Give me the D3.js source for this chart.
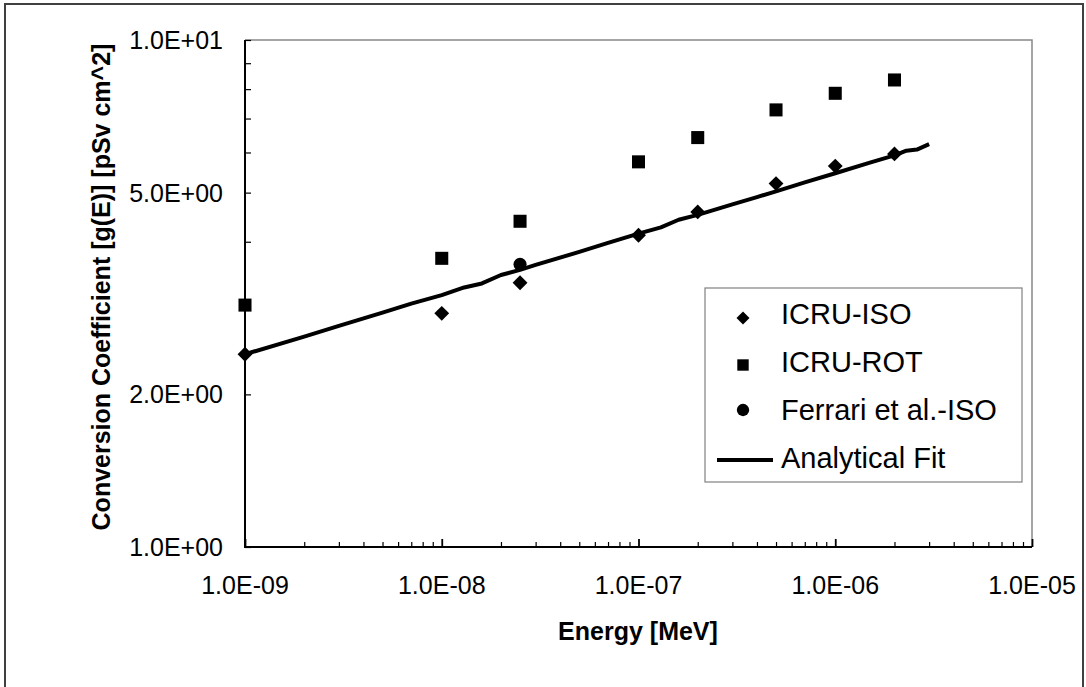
<!DOCTYPE html>
<html><head><meta charset="utf-8">
<script src="https://cdn.jsdelivr.net/npm/d3@7"></script>
<style>
html,body{margin:0;padding:0;background:#fff;}
text{font-family:"Liberation Sans",Arial,sans-serif;}
</style></head>
<body><svg id="c" width="1086" height="687"></svg>
<script>
// ---- data ----
const isoE   = [1e-9, 1e-8, 2.5e-8, 1e-7, 2e-7, 5e-7, 1e-6, 2e-6];
const isoV   = [2.40, 2.89, 3.32, 4.12, 4.58, 5.21, 5.64, 5.96];
const rotE   = [1e-9, 1e-8, 2.5e-8, 1e-7, 2e-7, 5e-7, 1e-6, 2e-6];
const rotV   = [3.00, 3.71, 4.39, 5.75, 6.42, 7.28, 7.85, 8.34];
const ferE   = [2.5e-8];
const ferV   = [3.61];
const fitE   = [1e-9, 2e-9, 3e-9, 5e-9, 7e-9, 1e-8, 1.3e-8, 1.6e-8, 2e-8, 2.5e-8, 3e-8, 5e-8, 7e-8, 1e-7, 1.3e-7, 1.6e-7, 2e-7, 3e-7, 4e-7, 5e-7, 7e-7, 1e-6, 1.5e-6, 2e-6, 2.3e-6, 2.6e-6, 3e-6];
const fitV   = [2.40, 2.60, 2.73, 2.90, 3.02, 3.14, 3.25, 3.31, 3.44, 3.52, 3.60, 3.82, 3.98, 4.15, 4.27, 4.42, 4.52, 4.74, 4.90, 5.03, 5.24, 5.46, 5.73, 5.92, 6.05, 6.08, 6.23];
const xMajor = [1e-9, 1e-8, 1e-7, 1e-6, 1e-5];
const yMajor = [1, 2, 5, 10];
const xLabels = ["1.0E-09","1.0E-08","1.0E-07","1.0E-06","1.0E-05"];
const yLabels = ["1.0E+00","2.0E+00","5.0E+00","1.0E+01"];
const legendLabels = ["ICRU-ISO","ICRU-ROT","Ferrari et al.-ISO","Analytical Fit"];
const xTitle = "Energy [MeV]";
const yTitle = "Conversion Coefficient [g(E)] [pSv cm^2]";

const svg = d3.select("#c");
const L = 245, R = 1032, T = 40, B = 547;
const x = d3.scaleLog().domain([1e-9, 1e-5]).range([L, R]);
const y = d3.scaleLog().domain([1, 10]).range([B, T]);

// outer frame
svg.append("rect").attr("x",5).attr("y",4).attr("width",1078).attr("height",700)
  .attr("fill","none").attr("stroke","#404040").attr("stroke-width",2);

// plot border top/right
svg.append("path").attr("d",`M${L},${T}H${R}V${B}`).attr("fill","none").attr("stroke","#888").attr("stroke-width",1.5);

// minor tick values
const xMinor = [];
for (let d=-9; d<-5; d++) for (let k=2;k<=9;k++) xMinor.push(k*Math.pow(10,d));
const yMinor = [3,4,6,7,8,9];

// X axis
const gx = svg.append("g").attr("transform",`translate(0,${B})`);
gx.call(d3.axisTop(x).tickValues(xMinor).tickSize(5).tickFormat(""))
  .call(g=>g.select(".domain").remove());
gx.selectAll("line").attr("stroke","#000").attr("stroke-width",1.2);
const gx2 = svg.append("g").attr("transform",`translate(0,${B})`);
gx2.call(d3.axisTop(x).tickValues(xMajor).tickSize(8).tickFormat(""))
  .call(g=>g.select(".domain").remove());
gx2.selectAll("line").attr("stroke","#000").attr("stroke-width",1.8);
svg.append("g").selectAll("text").data(xMajor).join("text")
  .attr("x",d=>x(d)).attr("y",594).attr("text-anchor","middle")
  .attr("font-size",25).text((d,i)=>xLabels[i]);

// Y axis
const gy = svg.append("g").attr("transform",`translate(${L},0)`);
gy.call(d3.axisRight(y).tickValues(yMinor.concat(yMajor)).tickSize(6).tickFormat(""))
  .call(g=>g.select(".domain").remove());
gy.selectAll("line").attr("stroke","#000").attr("stroke-width",1.2);
svg.append("g").selectAll("text").data(yMajor).join("text")
  .attr("x",223).attr("y",d=>y(d)+9).attr("text-anchor","end")
  .attr("font-size",25).text((d,i)=>yLabels[i]);

// axis lines
svg.append("path").attr("d",`M${L},${T}V${B}H${R}`).attr("fill","none").attr("stroke","#000").attr("stroke-width",2);

// titles
svg.append("text").attr("x",638).attr("y",640).attr("text-anchor","middle")
  .attr("font-size",25).attr("font-weight","bold").text(xTitle);
svg.append("text").attr("transform","translate(110,287) rotate(-90)").attr("text-anchor","middle")
  .attr("font-size",25).attr("font-weight","bold").text(yTitle);

// fit line
const line = d3.line().x(d=>x(d[0])).y(d=>y(d[1])).curve(d3.curveLinear);
svg.append("path").datum(fitE.map((e,i)=>[e,fitV[i]])).attr("d",line)
  .attr("fill","none").attr("stroke","#000").attr("stroke-width",4).attr("stroke-linejoin","round");

const diamond = d3.symbol().type(d3.symbolSquare).size(110)();
const square = d3.symbol().type(d3.symbolSquare).size(170)();
const circle = d3.symbol().type(d3.symbolCircle).size(135)();

svg.append("g").selectAll("path").data(rotE).join("path")
  .attr("d",square).attr("transform",(d,i)=>`translate(${x(d)},${y(rotV[i])})`).attr("fill","#000");
svg.append("g").selectAll("path").data(isoE).join("path")
  .attr("d",diamond).attr("transform",(d,i)=>`translate(${x(d)},${y(isoV[i])}) rotate(45)`).attr("fill","#000");
svg.append("g").selectAll("path").data(ferE).join("path")
  .attr("d",circle).attr("transform",(d,i)=>`translate(${x(d)},${y(ferV[i])})`).attr("fill","#000");

// legend
const lg = svg.append("g");
lg.append("rect").attr("x",705).attr("y",288).attr("width",317).attr("height",194)
  .attr("fill","#fff").attr("stroke","#808080").attr("stroke-width",1.2);
const base = [324, 372, 420, 468];
lg.selectAll("text").data(legendLabels).join("text")
  .attr("x",781).attr("y",(d,i)=>base[i]).attr("font-size",29).text(d=>d);
lg.append("path").attr("d",d3.symbol().type(d3.symbolSquare).size(85)()).attr("transform",`translate(743,${base[0]-6}) rotate(45)`);
lg.append("path").attr("d",d3.symbol().type(d3.symbolSquare).size(130)()).attr("transform",`translate(743,${base[1]-7})`);
lg.append("path").attr("d",d3.symbol().type(d3.symbolCircle).size(120)()).attr("transform",`translate(743,${base[2]-10})`);
lg.append("line").attr("x1",717).attr("x2",773).attr("y1",base[3]-8).attr("y2",base[3]-8).attr("stroke","#000").attr("stroke-width",4);
</script></body></html>
